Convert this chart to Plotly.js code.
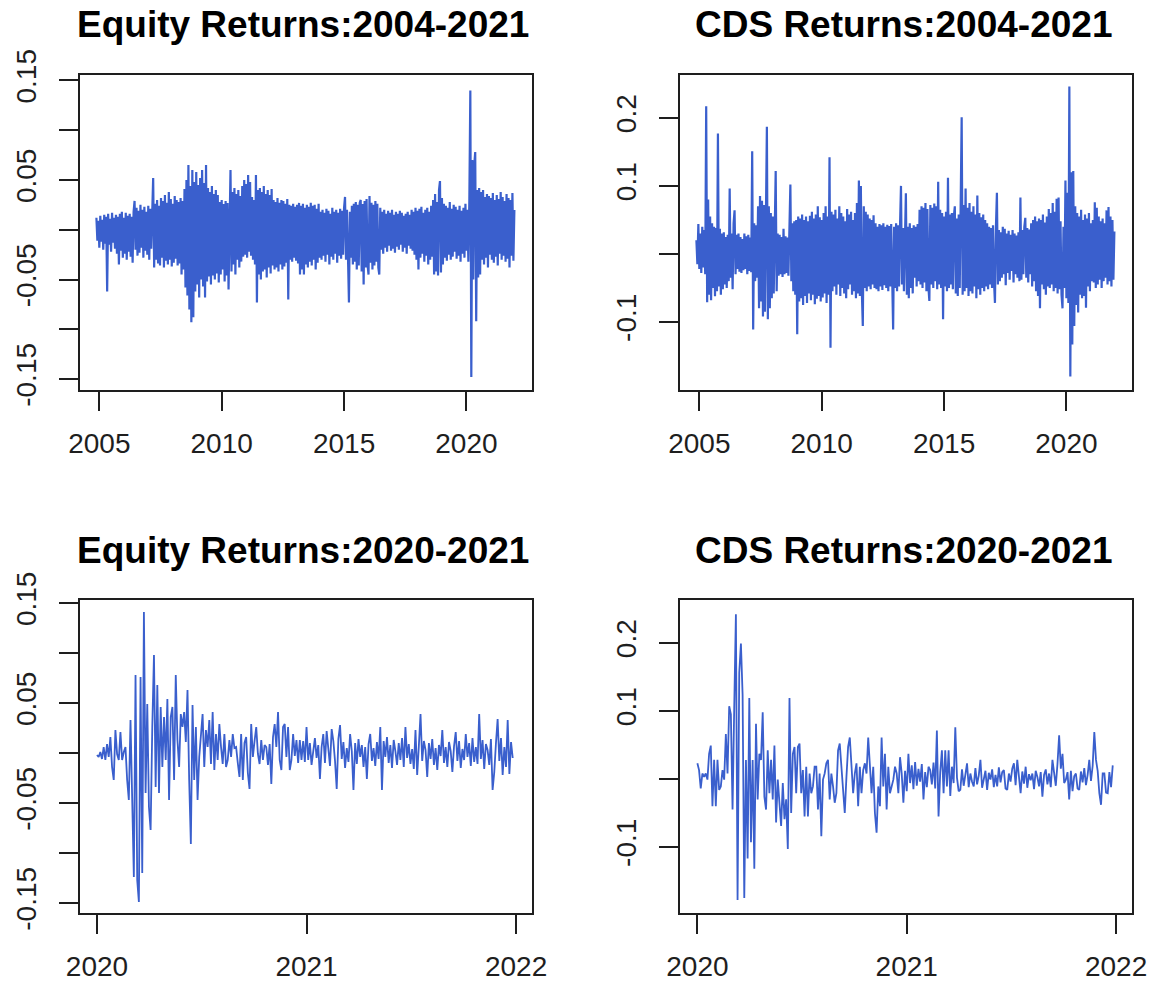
<!DOCTYPE html>
<html>
<head>
<meta charset="utf-8">
<script src="https://cdn.plot.ly/plotly-3.0.1.min.js"></script>
<style>html,body{margin:0;padding:0;background:#fff;}#chart{width:1155px;height:981px;}</style>
</head>
<body>
<div id="chart"></div>
<script>
// ---- Data (daily log-returns; evenly spaced samples) ----
const titles = ["Equity Returns:2004-2021", "CDS Returns:2004-2021", "Equity Returns:2020-2021", "CDS Returns:2020-2021"];

// Full period samples: start year and step (years)
const fullStart = 2004.88;
const fullStep = 0.04;
// 2020-2021 samples
const covidStart = 2020.0;
const covidStep = 0.008;

const equityFull = [
0.012,-0.011,0.009,-0.018,0.014,-0.012,0.010,-0.020,0.015,-0.014,
0.013,-0.062,0.016,-0.015,0.011,-0.022,0.017,-0.013,0.012,-0.019,
0.015,-0.024,0.013,-0.035,0.016,-0.021,0.018,-0.028,0.012,-0.024,
0.017,-0.030,0.014,-0.022,0.016,-0.027,0.013,-0.033,0.018,0.029,
-0.020,0.022,-0.026,0.019,-0.023,0.025,-0.018,0.020,-0.028,0.023,
-0.021,0.018,-0.025,0.024,-0.030,0.021,-0.019,0.020,0.052,-0.038,
0.026,-0.030,0.030,-0.034,0.024,-0.036,0.032,-0.028,0.029,-0.038,
0.035,-0.031,0.027,-0.035,0.038,-0.030,0.031,-0.037,0.026,-0.033,
0.034,-0.029,0.030,-0.036,0.028,-0.034,0.032,-0.045,0.029,-0.040,
0.041,-0.058,0.050,-0.066,0.065,-0.080,0.044,-0.093,0.060,-0.088,
0.048,-0.062,0.058,-0.055,0.045,-0.068,0.052,-0.050,0.060,-0.057,
0.047,-0.068,0.065,-0.052,0.042,-0.047,0.038,-0.055,0.044,-0.046,
0.036,-0.050,0.040,-0.044,0.035,-0.053,0.028,-0.045,0.030,-0.040,
0.026,-0.052,0.029,-0.046,0.027,-0.060,0.030,0.060,-0.042,0.038,
-0.035,0.042,-0.045,0.036,-0.030,0.040,-0.038,0.034,-0.032,0.044,
-0.027,0.050,-0.025,0.046,-0.028,0.055,-0.022,0.048,-0.026,0.033,
-0.030,0.030,-0.035,0.055,-0.073,0.040,-0.045,0.042,-0.050,0.038,
-0.042,0.044,-0.040,0.036,-0.048,0.040,-0.038,0.035,-0.044,0.041,
-0.036,0.030,-0.040,0.028,-0.038,0.032,-0.042,0.027,-0.035,0.030,
-0.040,0.029,-0.037,0.026,-0.033,0.031,-0.070,0.025,-0.030,0.024,
-0.032,0.026,-0.028,0.023,-0.031,0.025,-0.034,0.027,-0.045,0.024,
-0.040,0.026,-0.045,0.022,-0.035,0.025,-0.038,0.023,-0.032,0.027,
-0.036,0.024,-0.030,0.025,-0.040,0.021,-0.033,0.026,-0.028,0.018,
-0.030,0.020,-0.026,0.017,-0.032,0.021,-0.025,0.019,-0.035,0.016,
-0.027,0.022,-0.030,0.018,-0.024,0.020,-0.033,0.017,-0.026,0.021,
-0.029,0.019,-0.025,0.022,0.033,-0.030,0.020,-0.026,-0.073,0.018,
-0.028,0.024,-0.035,0.026,-0.032,0.028,-0.040,0.025,-0.036,0.027,
0.030,-0.042,0.026,-0.055,0.029,-0.038,0.031,-0.035,-0.045,0.034,
-0.033,0.027,-0.040,0.025,-0.036,0.029,-0.032,0.026,-0.038,-0.045,
0.022,-0.020,0.018,-0.024,0.020,-0.018,0.016,-0.022,0.019,-0.016,
0.017,-0.021,0.020,-0.019,0.015,-0.023,0.018,-0.017,0.016,-0.020,
0.019,-0.015,0.017,-0.022,0.014,-0.018,0.016,-0.024,0.018,-0.016,
0.015,-0.019,0.020,-0.021,0.018,-0.025,0.022,-0.030,0.019,-0.040,
0.021,-0.028,0.023,-0.024,0.017,-0.032,0.020,-0.026,0.022,-0.035,
0.018,-0.030,0.024,-0.027,0.030,-0.045,0.036,-0.042,0.028,-0.046,
0.040,0.049,-0.043,0.032,-0.035,0.026,-0.028,0.024,-0.031,0.022,
-0.025,0.028,-0.030,0.021,-0.027,0.025,-0.022,0.023,-0.029,0.020,
-0.026,0.024,-0.032,0.019,-0.024,0.022,-0.028,0.026,-0.021,0.020,
-0.032,0.030,0.140,-0.148,0.070,-0.050,0.065,0.078,-0.092,0.040,
-0.048,0.042,-0.045,0.038,-0.030,0.040,-0.035,0.033,-0.028,0.036,
-0.038,0.034,-0.025,0.032,-0.030,0.037,-0.033,0.030,-0.027,0.035,
-0.036,0.031,-0.024,0.038,-0.030,0.033,-0.026,0.029,-0.032,0.036,
-0.029,0.032,-0.038,0.030,-0.026,0.037,-0.031,0.020
];

const cdsFull = [
0.020,-0.015,0.044,-0.022,0.030,-0.028,0.040,-0.020,0.035,-0.030,
0.217,-0.071,0.080,-0.060,0.055,-0.068,0.045,-0.050,0.040,-0.062,
0.038,-0.055,0.177,-0.048,0.037,-0.060,0.030,-0.052,0.032,-0.045,
0.025,-0.050,0.028,-0.040,0.096,-0.035,0.030,-0.052,0.045,0.064,
-0.030,0.028,-0.022,0.030,-0.026,0.025,-0.028,0.022,-0.024,0.030,
-0.022,0.026,-0.030,0.028,-0.025,0.024,-0.027,0.151,-0.111,0.045,
-0.040,0.042,-0.035,0.070,-0.080,0.085,-0.070,0.078,-0.092,0.072,
-0.085,0.080,0.187,-0.096,0.070,-0.080,0.060,-0.065,0.055,-0.058,
0.050,0.122,-0.055,0.030,-0.032,0.028,-0.030,0.025,-0.034,0.037,
-0.030,0.026,-0.028,0.024,-0.032,0.030,0.102,-0.040,0.045,-0.055,
0.048,-0.060,0.050,-0.118,0.055,-0.070,0.052,-0.065,0.058,-0.075,
0.050,-0.062,0.055,-0.072,0.048,-0.058,0.056,-0.068,0.062,-0.060,
0.052,-0.074,0.058,-0.066,0.070,-0.062,0.054,-0.070,0.050,-0.064,
0.060,-0.058,0.070,-0.072,0.055,-0.060,0.142,-0.138,0.062,-0.055,
0.058,-0.048,0.065,-0.060,0.052,-0.045,0.070,-0.062,0.060,-0.050,
0.055,-0.058,0.048,-0.065,0.066,-0.052,0.058,-0.045,0.062,-0.060,
0.050,-0.055,0.060,-0.065,0.075,-0.058,0.108,-0.062,0.100,-0.055,
-0.106,0.070,-0.050,0.062,-0.055,0.058,-0.048,0.052,-0.052,0.050,
-0.045,0.057,-0.050,0.045,-0.052,0.040,-0.055,0.044,-0.048,0.042,
-0.053,0.045,-0.046,0.040,-0.050,0.043,-0.055,0.041,-0.048,0.044,
-0.052,-0.111,0.040,-0.050,0.045,-0.055,0.042,-0.048,0.040,0.100,
-0.045,0.038,-0.055,0.042,0.089,-0.060,0.040,-0.065,0.045,-0.050,
0.038,-0.058,0.042,-0.035,0.040,-0.048,0.044,-0.040,0.065,-0.045,
0.070,-0.050,0.068,-0.042,0.075,-0.055,0.066,-0.048,-0.069,0.072,
-0.045,0.068,-0.050,0.074,-0.040,0.070,-0.052,0.106,-0.045,0.065,
-0.050,0.060,-0.096,0.055,-0.048,0.062,-0.055,0.112,-0.050,0.058,
-0.045,0.060,-0.052,0.055,0.070,-0.058,0.052,-0.062,0.058,-0.050,
0.065,0.201,-0.060,0.072,-0.055,0.096,-0.050,0.068,-0.062,0.075,
-0.055,0.062,-0.058,0.070,-0.048,0.058,-0.065,0.086,-0.052,0.060,
-0.060,0.054,-0.050,0.058,-0.055,0.050,-0.048,0.045,-0.052,0.040,
-0.045,0.038,-0.050,0.042,-0.040,-0.072,0.040,0.090,-0.045,0.035,
-0.040,0.032,-0.035,0.040,-0.030,0.037,-0.046,0.030,-0.028,0.034,
-0.038,0.028,-0.025,0.035,-0.042,0.030,-0.030,0.027,-0.035,0.032,
-0.040,0.083,-0.038,0.035,-0.030,0.040,0.053,-0.035,0.038,-0.042,
0.036,-0.030,0.045,-0.048,0.050,-0.040,0.055,-0.055,0.048,-0.062,
0.052,-0.080,0.050,-0.045,0.058,-0.052,0.046,-0.060,0.055,-0.048,
0.066,-0.050,0.060,-0.045,0.075,-0.055,0.062,-0.050,0.081,-0.058,
0.083,-0.052,0.048,-0.060,-0.080,0.040,-0.050,0.108,-0.065,0.090,
-0.072,0.246,-0.180,0.120,-0.133,0.122,-0.106,0.070,-0.075,0.060,
-0.086,0.055,-0.060,0.065,-0.065,0.050,-0.062,0.058,-0.079,0.052,
-0.048,0.060,-0.055,0.045,-0.040,0.050,-0.042,0.076,-0.050,0.068,
-0.045,0.055,-0.038,0.048,-0.050,0.052,-0.040,0.045,-0.035,0.064,
-0.045,0.069,-0.040,0.055,-0.048,0.050,-0.038,0.033
];

const equityCovid = [
-0.002,-0.004,0.001,-0.006,0.006,-0.007,0.009,-0.004,0.016,-0.014,
-0.027,0.023,-0.001,-0.007,0.021,-0.007,0.001,0.006,-0.027,-0.047,
0.033,-0.060,-0.124,0.078,-0.127,-0.149,0.076,-0.120,0.141,-0.040,
0.049,-0.054,-0.077,0.026,0.098,-0.034,0.068,-0.040,0.046,-0.014,
0.036,-0.007,0.054,-0.047,0.036,0.046,-0.027,0.078,0.013,-0.014,
0.039,0.026,0.041,0.011,0.063,-0.027,-0.091,0.048,-0.027,0.026,
-0.047,-0.004,0.020,0.039,-0.014,0.023,0.006,0.033,-0.011,0.041,
-0.017,0.019,-0.007,0.029,0.006,-0.011,0.019,-0.014,-0.007,0.013,
-0.004,0.019,0.005,0.006,-0.010,-0.024,0.019,-0.027,0.010,0.016,
-0.020,-0.036,0.029,-0.004,0.012,0.026,-0.001,-0.011,0.013,-0.007,
0.008,0.006,-0.012,0.009,-0.031,0.016,0.029,0.006,0.041,-0.007,
-0.017,0.026,0.029,-0.004,0.026,-0.017,-0.007,0.019,-0.003,0.013,
-0.010,0.013,-0.007,0.012,-0.009,0.026,-0.007,0.010,-0.012,0.004,
0.015,-0.005,0.008,-0.026,0.006,0.019,-0.010,0.022,0.003,-0.013,
0.024,0.012,-0.008,-0.036,0.014,0.028,-0.006,0.011,-0.015,0.005,
-0.009,0.019,0.002,-0.037,0.010,-0.011,0.014,-0.004,0.008,-0.014,
0.006,-0.026,0.009,0.019,-0.008,0.005,-0.013,0.011,-0.006,0.026,
-0.037,0.012,-0.004,0.016,-0.010,0.008,-0.015,0.013,0.002,-0.012,
0.010,-0.007,0.015,-0.014,0.026,-0.005,0.009,-0.011,0.004,-0.016,
0.023,-0.022,0.007,0.039,-0.008,0.012,0.003,-0.024,0.010,-0.006,
0.014,-0.012,0.005,-0.017,0.008,-0.003,0.023,-0.010,0.006,-0.014,
0.011,0.002,-0.019,0.007,0.021,-0.008,0.012,-0.015,0.004,-0.007,
0.019,-0.004,0.010,-0.013,0.015,-0.009,0.006,-0.011,0.039,-0.006,
0.013,-0.016,0.009,0.003,-0.012,0.014,-0.037,-0.019,0.010,0.034,
-0.008,0.015,-0.022,0.006,-0.014,0.033,-0.021,0.011,-0.005
];

const cdsCovid = [
0.023,0.013,-0.014,0.008,0.003,0.008,-0.001,0.037,0.049,-0.040,
0.028,-0.040,0.028,-0.016,-0.011,0.013,-0.001,0.066,0.008,0.107,
0.095,-0.045,0.105,0.242,-0.178,0.156,0.199,0.124,-0.175,0.028,
-0.117,0.119,-0.093,0.028,-0.132,0.081,-0.030,0.037,0.028,0.098,
-0.026,-0.045,0.042,-0.021,0.028,-0.030,0.049,-0.064,-0.001,-0.040,
-0.069,-0.006,-0.059,-0.030,-0.103,0.119,-0.050,0.037,0.047,-0.021,
0.047,0.052,-0.021,0.013,-0.055,0.018,-0.055,0.008,-0.021,-0.011,
0.018,0.018,-0.045,0.008,-0.084,-0.001,0.008,0.023,0.028,-0.030,
0.008,-0.011,-0.035,-0.021,0.042,0.052,0.018,-0.030,-0.050,0.003,
0.047,0.061,0.023,-0.021,0.008,0.023,-0.040,0.018,-0.021,0.013,
0.023,0.008,0.061,0.008,-0.021,0.018,-0.050,-0.079,-0.011,-0.040,
0.061,-0.011,0.037,-0.045,0.018,-0.021,-0.011,-0.001,0.018,0.008,
-0.021,0.032,0.008,-0.035,0.012,-0.018,0.037,-0.006,0.020,-0.015,
0.025,-0.010,0.015,-0.004,0.022,-0.030,0.010,-0.012,0.018,0.013,
-0.008,0.024,-0.014,0.071,-0.055,0.010,0.042,-0.021,0.042,-0.011,
0.042,-0.025,0.018,-0.006,0.076,0.002,-0.018,-0.016,0.014,-0.010,
0.006,0.023,-0.012,0.008,-0.004,-0.011,0.016,-0.008,0.005,0.028,
-0.013,0.003,0.012,-0.016,0.009,-0.001,0.014,-0.012,0.006,-0.011,
0.017,-0.005,0.010,0.013,-0.014,-0.016,0.008,-0.004,0.015,0.023,
-0.009,0.028,0.004,-0.021,0.011,-0.007,0.018,-0.013,0.007,-0.002,
0.008,-0.015,0.012,0.003,-0.011,0.010,-0.026,0.006,0.014,-0.008,
0.008,-0.012,0.028,0.005,-0.010,0.022,0.064,0.015,0.037,-0.006,
-0.001,0.010,-0.030,0.012,-0.018,0.004,0.008,-0.014,-0.016,0.011,
-0.005,0.016,-0.009,0.006,0.028,-0.003,0.019,0.069,0.028,0.012,
-0.021,-0.038,0.008,0.008,-0.020,-0.021,0.010,-0.012,0.020
];

// Tick values and labels
const eqTickVals = [-0.15, -0.10, -0.05, 0, 0.05, 0.10, 0.15];
const eqTickText = ["-0.15", "", "-0.05", "", "0.05", "", "0.15"];
const cdsTickVals = [-0.1, 0, 0.1, 0.2];
const cdsTickText = ["-0.1", "", "0.1", "0.2"];
const fullYearTicks = [2005, 2010, 2015, 2020];
const covidYearTicks = [2020, 2021, 2022];

// ---- Styling ----
const lineColor = "#3A5FCD";
const axisColor = "#1e1e1e";
const fontFam = "Liberation Sans, Arial, Helvetica, sans-serif";
const W = 1155, H = 981;
const px = v => v / W;
const py = v => 1 - v / H;

function trace(y, x0, dx, xa, ya, w) {
  return { type: "scatter", mode: "lines", y: y, x0: x0, dx: dx, xaxis: xa, yaxis: ya,
           line: { color: lineColor, width: w }, hoverinfo: "skip", showlegend: false };
}

function baseAxis() {
  return { showline: true, mirror: true, linecolor: axisColor, linewidth: 2,
           ticks: "outside", ticklen: 19, tickwidth: 2, tickcolor: axisColor,
           showgrid: false, zeroline: false, fixedrange: true,
           tickfont: { family: fontFam, size: 28, color: axisColor } };
}
function xAxis(dom, rng, vals, anchor) {
  return Object.assign(baseAxis(), { domain: dom, range: rng, tickmode: "array",
    tickvals: vals, ticktext: vals.map(String), anchor: anchor, ticklabelstandoff: 8 });
}
function yAxis(dom, rng, vals, text, anchor) {
  return Object.assign(baseAxis(), { domain: dom, range: rng, tickmode: "array",
    tickvals: vals, ticktext: text, tickangle: -90, anchor: anchor, ticklabelstandoff: 12 });
}

const dLeft = [px(80), px(532)], dRight = [px(680), px(1132)];
const dTop = [py(390), py(75)], dBot = [py(913), py(600)];

const data = [
  trace(equityFull, fullStart, fullStep, "x", "y", 2.2),
  trace(cdsFull, fullStart, fullStep, "x2", "y2", 2.2),
  trace(equityCovid, covidStart, covidStep, "x3", "y3", 1.8),
  trace(cdsCovid, covidStart, covidStep, "x4", "y4", 1.8)
];

function title(text, xc, yc) {
  return { text: "<b>" + text + "</b>", xref: "paper", yref: "paper", x: xc, y: yc,
           xanchor: "center", yanchor: "middle", showarrow: false,
           font: { family: fontFam, size: 37, color: "#000" } };
}

const layout = {
  width: W, height: H, margin: { l: 0, r: 0, t: 0, b: 0 },
  paper_bgcolor: "#fff", plot_bgcolor: "#fff", showlegend: false,
  xaxis: xAxis(dLeft, [2004.21, 2022.68], fullYearTicks, "y"),
  yaxis: yAxis(dTop, [-0.161, 0.1555], eqTickVals, eqTickText, "x"),
  xaxis2: xAxis(dRight, [2004.21, 2022.68], fullYearTicks, "y2"),
  yaxis2: yAxis(dTop, [-0.2, 0.263], cdsTickVals, cdsTickText, "x2"),
  xaxis3: xAxis(dLeft, [2019.919, 2022.076], covidYearTicks, "y3"),
  yaxis3: yAxis(dBot, [-0.16, 0.153], eqTickVals, eqTickText, "x3"),
  xaxis4: xAxis(dRight, [2019.917, 2022.076], covidYearTicks, "y4"),
  yaxis4: yAxis(dBot, [-0.197, 0.263], cdsTickVals, cdsTickText, "x4"),
  annotations: [
    title(titles[0], px(303), py(25)),
    title(titles[1], px(903), py(25)),
    title(titles[2], px(303), py(550)),
    title(titles[3], px(903), py(550))
  ]
};

Plotly.newPlot("chart", data, layout, { staticPlot: true, displayModeBar: false });
</script>
</body>
</html>
